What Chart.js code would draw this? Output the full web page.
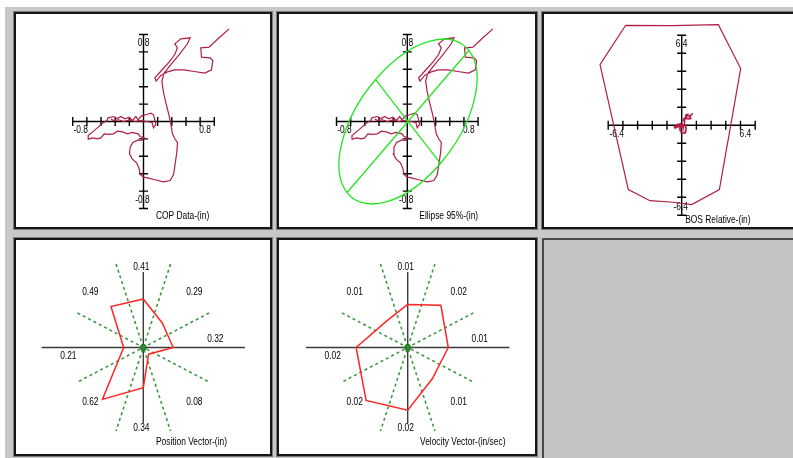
<!DOCTYPE html>
<html><head><meta charset="utf-8">
<script src="https://cdn.jsdelivr.net/npm/chart.js@4.4.0/dist/chart.umd.min.js"></script>
<style>
html,body{margin:0;padding:0;background:#fff;width:793px;height:458px;overflow:hidden;position:relative;}
#bg{position:absolute;left:5px;top:7px;width:788px;height:451px;background:#c8c8c8;}
.panel{position:absolute;background:#fff;border:2px solid #161616;box-sizing:border-box;box-shadow:0 0 0 1px #7c7c7c;}
.panel canvas{position:absolute;left:0;top:0;}
#empty{position:absolute;left:542px;top:238px;width:260px;height:230px;background:#c5c3c5;border-left:2px solid #4a4a4a;border-top:2px solid #4a4a4a;box-sizing:border-box;}
</style></head>
<body>
<div id="bg"></div>
<div id="empty"></div>
<script>
// ---------------- DATA ----------------
// Centre-of-pressure trace (inches)
const copX = [1.209,1.068,0.927,0.809,0.819,0.941,0.979,0.960,0.866,0.715,0.574,0.433,0.329,0.245,0.179,0.160,0.254,0.362,0.442,0.480,0.442,0.527,0.659,0.621,0.504,0.386,0.292,0.259,0.282,0.320,0.358,0.386,0.409,0.442,0.480,0.471,0.447,0.424,0.376,0.282,0.160,0.056,0.000,-0.047,-0.061,-0.094,-0.160,-0.198,-0.188,-0.151,-0.075,-0.028,0.009,-0.047,-0.075,-0.155,-0.226,-0.296,-0.367,-0.424,-0.485,-0.555,-0.602,-0.649,-0.720,-0.772,-0.781,-0.706,-0.640,-0.579,-0.518,-0.499,-0.424,-0.367,-0.320,-0.264,-0.202,-0.155,-0.108,-0.075,-0.028,0.047,0.104,0.141,0.160,0.174,0.141,0.120,0.050,-0.050,-0.120,-0.200,-0.280,-0.350,-0.420,-0.460];
const copY = [1.065,0.962,0.854,0.847,0.739,0.732,0.701,0.594,0.556,0.575,0.594,0.594,0.567,0.529,0.464,0.502,0.586,0.682,0.770,0.847,0.893,0.950,0.962,0.893,0.770,0.655,0.556,0.464,0.337,0.203,0.080,-0.027,-0.142,-0.199,-0.241,-0.352,-0.487,-0.609,-0.678,-0.693,-0.670,-0.648,-0.640,-0.609,-0.544,-0.479,-0.429,-0.372,-0.295,-0.241,-0.211,-0.218,-0.188,-0.172,-0.142,-0.126,-0.142,-0.119,-0.111,-0.142,-0.149,-0.142,-0.188,-0.199,-0.188,-0.203,-0.161,-0.111,-0.065,-0.019,0.011,0.042,0.057,0.034,0.057,0.031,0.050,0.011,0.057,0.019,0.065,0.080,0.096,0.080,0.019,-0.034,-0.073,-0.010,0.000,0.010,0.000,0.020,0.000,0.020,0.010,0.030];
const copTickLabels = ['-0.8','0.8'];
// Base of support outline (inches)
const bosX = [-6.10,-1.09,3.99,6.42,4.10,1.09,-0.91,-3.45,-5.81,-8.89];
const bosY = [8.89,8.86,8.95,5.04,-5.72,-7.05,-6.84,-6.70,-5.72,5.39];
const bosTickLabels = ['-6.4','6.4'];
// 95% confidence ellipse
const ellipseCenter = [0.01, 0.0];
const ellipseSemiAxes = [1.186, 0.665];
const ellipseAngleDeg = [43.5];
// Direction vectors
const directions = ['N','NE','E','SE','S','SW','W','NW'];
const directionAngles = [90,45,0,-45,-90,-135,180,135];
const positionVector = [0.41,0.29,0.32,0.08,0.34,0.62,0.21,0.49];
const velocityVector = [0.0117,0.0162,0.0140,0.0120,0.0170,0.0203,0.0178,0.0102];
const titles = ['COP Data-(in)','Ellipse 95%-(in)','BOS Relative-(in)','Position Vector-(in)','Velocity Vector-(in/sec)'];

// ---------------- LAYOUT ----------------
const FONT = '10.5px "Liberation Sans", Arial, sans-serif';
const SQUEEZE = 0.8;
const TRACE = '#b01e48';
const labelOffsets = [[-2,-80],[51,-55],[72,-8],[51,55],[-2,81],[-53,55],[-75,9],[-53,-55]];

function txt(ctx,t,x,y,align){
  ctx.save();
  ctx.translate(x,y); ctx.scale(SQUEEZE,1);
  ctx.font=FONT; ctx.fillStyle='#000'; ctx.textAlign=align; ctx.textBaseline='middle';
  ctx.fillText(t,0,0);
  ctx.restore();
}
function makePanel(p){
  const d=document.createElement('div'); d.className='panel';
  d.style.left=p.l+'px'; d.style.top=p.t+'px'; d.style.width=p.w+'px'; d.style.height=p.h+'px';
  const c=document.createElement('canvas');
  const iw=p.w-4, ih=p.h-4;
  c.width=iw; c.height=ih; c.style.width=iw+'px'; c.style.height=ih+'px';
  d.appendChild(c); document.body.appendChild(d);
  return {canvas:c, il:p.l+2, it:p.t+2, iw:iw, ih:ih};
}
function pad(p,b){
  return {left:b.cx-b.hx-p.il, right:(p.il+p.iw)-(b.cx+b.hx), top:b.cy-b.hy-p.it, bottom:(p.it+p.ih)-(b.cy+b.hy)};
}
function pts(xs,ys,close){
  const a=xs.map((x,i)=>({x:x,y:ys[i]}));
  if(close) a.push({x:xs[0],y:ys[0]});
  return a;
}
function polar(vals,close){
  const a=vals.map((v,i)=>{const t=directionAngles[i]*Math.PI/180;return {x:v*Math.cos(t),y:v*Math.sin(t)};});
  if(close) a.push(a[0]);
  return a;
}

// ---------------- PLUGINS ----------------
const crossAxes = {
  id:'crossAxes',
  beforeDatasetsDraw(chart,args,o){
    if(!o || !o.step) return;
    const ctx=chart.ctx, xs=chart.scales.x, ys=chart.scales.y;
    const x0=xs.getPixelForValue(0), y0=ys.getPixelForValue(0);
    const xl=xs.getPixelForValue(xs.min), xr=xs.getPixelForValue(xs.max);
    const yb=ys.getPixelForValue(ys.min), yt=ys.getPixelForValue(ys.max);
    ctx.save();
    ctx.strokeStyle='#000'; ctx.lineWidth=1.4;
    ctx.beginPath();
    ctx.moveTo(xl,y0); ctx.lineTo(xr,y0);
    ctx.moveTo(x0,yb); ctx.lineTo(x0,yt);
    const nx=Math.round((xs.max-xs.min)/o.step);
    for(let i=0;i<=nx;i++){const px=xs.getPixelForValue(xs.min+i*o.step);ctx.moveTo(px,y0-4.5);ctx.lineTo(px,y0+4.5);}
    const ny=Math.round((ys.max-ys.min)/o.step);
    for(let i=0;i<=ny;i++){const py=ys.getPixelForValue(ys.min+i*o.step);ctx.moveTo(x0-4.5,py);ctx.lineTo(x0+4.5,py);}
    ctx.stroke();
    ctx.restore();
    o.labels.forEach(t=>{
      const v=parseFloat(t); const px=xs.getPixelForValue(v);
      txt(ctx,t, v<0 ? px+1 : px-1, y0+8.5, v<0 ? 'right':'left');
    });
    txt(ctx,o.labels[1], x0, yt+8.5, 'center');
    txt(ctx,o.labels[0], x0-1, yb-8.5, 'center');
  }
};
const panelTitle = {
  id:'panelTitle',
  afterDatasetsDraw(chart,args,o){
    if(!o || !o.text) return;
    const xs=chart.scales.x, ys=chart.scales.y;
    txt(chart.ctx,o.text, xs.getPixelForValue(0)+o.dx, ys.getPixelForValue(0)+94.5, 'left');
  }
};
const ellipsePlugin = {
  id:'ellipse95',
  afterDatasetsDraw(chart,args,o){
    if(!o || !o.center) return;
    const ctx=chart.ctx, xs=chart.scales.x, ys=chart.scales.y;
    const cx=xs.getPixelForValue(o.center[0]), cy=ys.getPixelForValue(o.center[1]);
    const sx=xs.getPixelForValue(1)-xs.getPixelForValue(0);
    const sy=ys.getPixelForValue(1)-ys.getPixelForValue(0);
    const a=o.axes[0], b=o.axes[1], th=o.angle*Math.PI/180;
    ctx.save();
    ctx.beginPath();
    ctx.translate(cx,cy); ctx.scale(sx,sy); ctx.rotate(th);
    ctx.ellipse(0,0,a,b,0,0,Math.PI*2);
    ctx.moveTo(-a,0); ctx.lineTo(a,0);
    ctx.moveTo(0,-b); ctx.lineTo(0,b);
    ctx.restore();
    ctx.save(); ctx.strokeStyle='#22e622'; ctx.lineWidth=1.3; ctx.stroke(); ctx.restore();
  }
};
const radarGrid = {
  id:'radarGrid',
  beforeDatasetsDraw(chart,args,o){
    if(!o || !o.values) return;
    const ctx=chart.ctx, xs=chart.scales.x, ys=chart.scales.y, ca=chart.chartArea;
    const x0=xs.getPixelForValue(0), y0=ys.getPixelForValue(0);
    ctx.save();
    ctx.strokeStyle='#3c3c3c'; ctx.lineWidth=1.4;
    ctx.beginPath(); ctx.moveTo(ca.left,y0); ctx.lineTo(ca.right,y0); ctx.moveTo(x0,ca.top); ctx.lineTo(x0,ca.bottom); ctx.stroke();
    const r=xs.max*o.spoke;
    ctx.strokeStyle='#3f9a3f'; ctx.lineWidth=1.6; ctx.setLineDash([3,3]);
    ctx.beginPath();
    for(let k=0;k<4;k++){
      const t=(22.5+45*k)*Math.PI/180;
      ctx.moveTo(xs.getPixelForValue(r*Math.cos(t)), ys.getPixelForValue(r*Math.sin(t)));
      ctx.lineTo(xs.getPixelForValue(-r*Math.cos(t)), ys.getPixelForValue(-r*Math.sin(t)));
    }
    ctx.stroke();
    ctx.restore();
  },
  afterDatasetsDraw(chart,args,o){
    if(!o || !o.values) return;
    const ctx=chart.ctx, xs=chart.scales.x, ys=chart.scales.y;
    const x0=xs.getPixelForValue(0), y0=ys.getPixelForValue(0);
    ctx.save();
    ctx.fillStyle='#2e8b2e'; ctx.strokeStyle='#1f6a1f'; ctx.lineWidth=1;
    ctx.beginPath(); ctx.arc(x0,y0,3,0,Math.PI*2); ctx.fill(); ctx.stroke();
    ctx.restore();
    o.values.forEach((v,i)=>{txt(ctx,v.toFixed(2), x0+labelOffsets[i][0], y0+labelOffsets[i][1], 'center');});
  }
};
Chart.register(crossAxes, panelTitle, ellipsePlugin, radarGrid);

function baseOptions(padding, xr, yr, plugins){
  return {
    responsive:false, animation:false, events:[], devicePixelRatio:1,
    layout:{padding:padding},
    scales:{
      x:{type:'linear', display:false, min:-xr, max:xr},
      y:{type:'linear', display:false, min:-yr, max:yr}
    },
    plugins:Object.assign({legend:{display:false}, tooltip:{enabled:false}}, plugins)
  };
}
function line(data,color,w){
  return {data:data, showLine:true, borderColor:color, borderWidth:w, pointRadius:0, fill:false, clip:false, tension:0};
}

// Panel 1: COP
const p1=makePanel({l:14,t:12,w:258,h:217});
new Chart(p1.canvas,{type:'scatter',
  data:{datasets:[line(pts(copX,copY,false),TRACE,1.2)]},
  options:baseOptions(pad(p1,{cx:143.5,cy:121.5,hx:70.8,hy:87}),1.0,1.0,
    {crossAxes:{step:0.2,labels:copTickLabels}, panelTitle:{text:titles[0],dx:12.5}})});

// Panel 2: Ellipse
const p2=makePanel({l:277,t:12,w:260,h:217});
new Chart(p2.canvas,{type:'scatter',
  data:{datasets:[line(pts(copX,copY,false),TRACE,1.2)]},
  options:baseOptions(pad(p2,{cx:407.3,cy:121.5,hx:70.8,hy:87}),1.0,1.0,
    {crossAxes:{step:0.2,labels:copTickLabels}, panelTitle:{text:titles[1],dx:12},
     ellipse95:{center:ellipseCenter,axes:ellipseSemiAxes,angle:ellipseAngleDeg[0]}})});

// Panel 3: BOS
const p3=makePanel({l:542,t:12,w:262,h:217});
new Chart(p3.canvas,{type:'scatter',
  data:{datasets:[line(pts(bosX,bosY,true),TRACE,1.2), line(pts(copX,copY,false),TRACE,1.6)]},
  options:baseOptions(pad(p3,{cx:681.7,cy:125.3,hx:73.5,hy:90}),8.0,8.0,
    {crossAxes:{step:1.6,labels:bosTickLabels}, panelTitle:{text:titles[2],dx:3.5}})});

// Panel 4: Position vector
const p4=makePanel({l:14,t:238,w:258,h:218});
new Chart(p4.canvas,{type:'scatter',
  data:{datasets:[line(polar(positionVector,true),'#ff2626',1.5)]},
  options:baseOptions(pad(p4,{cx:143.3,cy:347.5,hx:101.7,hy:75.5}),1.09,0.638,
    {radarGrid:{values:positionVector,spoke:0.70}, panelTitle:{text:titles[3],dx:12.7}})});

// Panel 5: Velocity vector
const p5=makePanel({l:277,t:238,w:260,h:218});
new Chart(p5.canvas,{type:'scatter',
  data:{datasets:[line(polar(velocityVector,true),'#ff2626',1.5)]},
  options:baseOptions(pad(p5,{cx:407.7,cy:347.5,hx:101.7,hy:75.5}),0.0351,0.0205,
    {radarGrid:{values:velocityVector,spoke:0.70}, panelTitle:{text:titles[4],dx:12.3}})});
</script>
</body></html>
